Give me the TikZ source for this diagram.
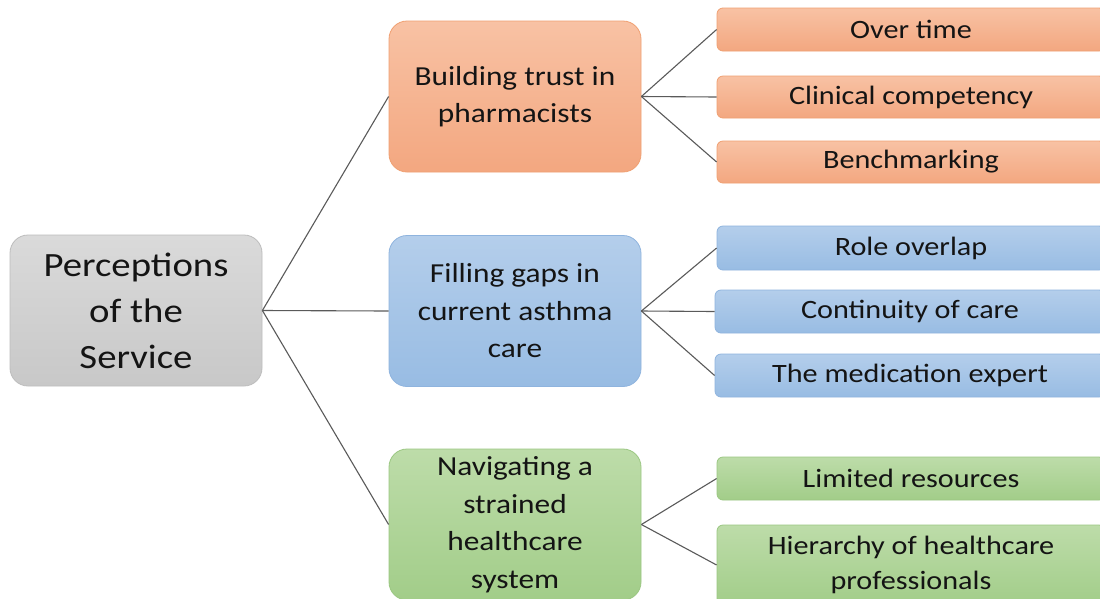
\documentclass[tikz,border=0pt]{standalone}
\usepackage{fontspec}
\setmainfont{Carlito}[FakeStretch=1.14]
\begin{document}
\begin{tikzpicture}[x=1pt,y=-1pt,
  box/.style={draw, line width=0.8pt, rounded corners=18pt, align=center,
    inner sep=0pt, text=black!92},
  rootbox/.style={box, minimum width=252pt, minimum height=151pt,
    top color=graytop, bottom color=graybot, draw=grayline,
    font=\fontsize{34}{46}\selectfont},
  midbox/.style={box, minimum width=252pt, minimum height=151pt,
    font=\fontsize{27.5}{37.5}\selectfont},
  leafbox/.style={box, rounded corners=6pt, minimum width=388pt,
    font=\fontsize{26.5}{35}\selectfont},
  orange/.style={top color=ortop, bottom color=orbot, draw=orline},
  blue/.style={top color=bltop, bottom color=blbot, draw=blline},
  green/.style={top color=grtop, bottom color=grbot, draw=grline},
  link/.style={draw=linkgray, line width=1.1pt}]

\definecolor{graytop}{HTML}{DADADA}
\definecolor{graybot}{HTML}{C8C8C8}
\definecolor{grayline}{HTML}{BDBDBD}
\definecolor{ortop}{HTML}{F8C2A4}
\definecolor{orbot}{HTML}{F3A780}
\definecolor{orline}{HTML}{F0A072}
\definecolor{bltop}{HTML}{B4CEEB}
\definecolor{blbot}{HTML}{98BCE3}
\definecolor{blline}{HTML}{8FB4DE}
\definecolor{grtop}{HTML}{BDDCA9}
\definecolor{grbot}{HTML}{A2CD89}
\definecolor{grline}{HTML}{9BC782}
\definecolor{linkgray}{HTML}{5A5A5A}

\clip (0,0) rectangle (1100,598);
\fill[white] (0,0) rectangle (1100,598);

% root
\node[rootbox] (root) at (136,310.5) {Perceptions\\of the\\Service};

% themes
\node[midbox, orange] (trust) at (515,96.5) {Building trust in\\pharmacists};
\node[midbox, blue]   (gaps)  at (515,311)  {Filling gaps in\\current asthma\\care};
\node[midbox, green]  (nav)   at (515,524.5) {Navigating a\\strained\\healthcare\\system};

% sub-themes
\node[leafbox, orange, minimum height=43pt] (time)  at (911,29.5) {Over time};
\node[leafbox, orange, minimum height=42pt] (clin)  at (911,97)   {Clinical competency};
\node[leafbox, orange, minimum height=42pt] (bench) at (911,162)  {Benchmarking};

\node[leafbox, blue, minimum height=44pt] (role) at (911,248)   {Role overlap};
\node[leafbox, blue, minimum height=43pt, minimum width=390pt] (cont) at (910,311.5) {Continuity of care};
\node[leafbox, blue, minimum height=43pt, minimum width=390pt] (med)  at (910,375.5) {The medication expert};

\node[leafbox, green, minimum height=43pt] (lim)  at (911,478.5) {Limited resources};
\node[leafbox, green, minimum height=80pt] (hier) at (911,565)   {Hierarchy of healthcare\\professionals};

% connectors
\draw[link] (root.east) -- (trust.west);
\draw[link] (root.east) -- (gaps.west);
\draw[link] (root.east) -- (nav.west);

\draw[link] (trust.east) -- (time.west);
\draw[link] (trust.east) -- (clin.west);
\draw[link] (trust.east) -- (bench.west);

\draw[link] (gaps.east) -- (role.west);
\draw[link] (gaps.east) -- (cont.west);
\draw[link] (gaps.east) -- (med.west);

\draw[link] (nav.east) -- (lim.west);
\draw[link] (nav.east) -- (hier.west);
\end{tikzpicture}
\end{document}
